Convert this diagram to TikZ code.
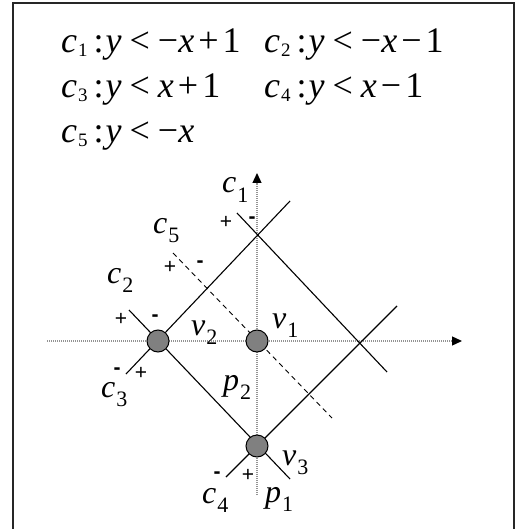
\documentclass[tikz,border=0pt]{standalone}
\usepackage{fontspec}
\setmainfont{Liberation Serif}
\newfontfamily\markfont{Liberation Sans}
\usetikzlibrary{arrows.meta}
\newcommand\eqsub[1]{\raisebox{-0.1em}{\fontsize{19}{19}\selectfont #1}}
\newcommand\lbsub[1]{\raisebox{-0.3em}{\fontsize{22}{22}\selectfont #1}}
\newcommand\eqc[1]{\textit{c}\kern1pt\eqsub{#1}}
\newcommand\lbl[2]{\textit{#1}\kern1pt\lbsub{#2}}
\tikzset{
  eq/.style={anchor=base west, inner sep=0pt, font=\fontsize{36}{42}\selectfont},
  lab/.style={anchor=base west, inner sep=0pt, font=\fontsize{32}{36}\selectfont},
  sgn/.style={anchor=base, inner sep=0pt, font=\markfont\fontsize{21}{21}\selectfont},
  axisline/.style={gray!85, line width=1.3pt, dash pattern=on 1pt off 1pt, -{Triangle[length=10pt,width=9pt,color=black]}},
  cline/.style={black, line width=1.1pt},
  cdash/.style={black, line width=0.9pt, dash pattern=on 5pt off 4pt},
  vert/.style={circle, draw=black, line width=1pt, fill=gray, minimum size=22pt, inner sep=0pt},
  frameline/.style={black!85, line width=1.5pt}
}
\begin{document}
\begin{tikzpicture}[x=1pt, y=-1pt]
\useasboundingbox (0,0) rectangle (518,529);
% frame
\coordinate (fbl) at (13,535);
\coordinate (ftl) at (13,3);
\coordinate (ftr) at (514,3);
\coordinate (fbr) at (514,535);
\draw[frameline] (fbl) -- (ftl) -- (ftr) -- (fbr);
% equations
\node[eq] (e1) at (61,53) {\eqc{1}\kern6pt:\kern2pt\textit{y}\kern8pt<\kern8pt−\textit{x}\kern4pt+\kern4pt1};
\node[eq] (e2) at (264,53) {\eqc{2}\kern6pt:\kern2pt\textit{y}\kern8pt<\kern8pt−\textit{x}\kern4pt−\kern4pt1};
\node[eq] (e3) at (61,98) {\eqc{3}\kern6pt:\kern2pt\textit{y}\kern8pt<\kern8pt\textit{x}\kern4pt+\kern4pt1};
\node[eq] (e4) at (264,98) {\eqc{4}\kern6pt:\kern2pt\textit{y}\kern8pt<\kern8pt\textit{x}\kern4pt−\kern4pt1};
\node[eq] (e5) at (61,143) {\eqc{5}\kern6pt:\kern2pt\textit{y}\kern8pt<\kern8pt−\textit{x}};
% axes
\coordinate (axL) at (47,341);
\coordinate (axR) at (462,341);
\coordinate (ayB) at (257,495);
\coordinate (ayT) at (257,173);
\draw[axisline] (axL) -- (axR);
\draw[axisline] (ayB) -- (ayT);
% constraint lines
\coordinate (c1a) at (237,213);
\coordinate (c1b) at (387,372);
\coordinate (c3a) at (126,374);
\coordinate (c3b) at (290,201);
\coordinate (c2a) at (129,310);
\coordinate (c2b) at (290,479);
\coordinate (c4a) at (226,477);
\coordinate (c4b) at (397,306);
\coordinate (c5a) at (173,253);
\coordinate (c5b) at (332,418);
\draw[cline] (c1a) -- (c1b);
\draw[cline] (c3a) -- (c3b);
\draw[cline] (c2a) -- (c2b);
\draw[cline] (c4a) -- (c4b);
\draw[cdash] (c5a) -- (c5b);
% vertices
\node[vert] (v1) at (257,341) {};
\node[vert] (v2) at (158,341) {};
\node[vert] (v3) at (257,446) {};
% labels
\node[lab] (l1) at (222,193) {\lbl{c}{1}};
\node[lab] (l5) at (153,233) {\lbl{c}{5}};
\node[lab] (l2) at (107,283) {\lbl{c}{2}};
\node[lab] (l3) at (101,397) {\lbl{c}{3}};
\node[lab] (l4) at (202,503) {\lbl{c}{4}};
\node[lab] (lv2) at (191,335) {\lbl{v}{2}};
\node[lab] (lv1) at (272,328) {\lbl{v}{1}};
\node[lab] (lp2) at (223,390) {\lbl{p}{2}};
\node[lab] (lv3) at (282,465) {\lbl{v}{3}};
\node[lab] (lp1) at (265,502) {\lbl{p}{1}};
% signs
\node[sgn] (s1p) at (226,228) {+};
\node[sgn] (s1m) at (252,223) {\bfseries -};
\node[sgn] (s5p) at (170,273) {+};
\node[sgn] (s5m) at (200,267) {\bfseries -};
\node[sgn] (s2p) at (121,325) {+};
\node[sgn] (s2m) at (155,321) {\bfseries -};
\node[sgn] (s3m) at (117,374) {\bfseries -};
\node[sgn] (s3p) at (141,379) {+};
\node[sgn] (s4m) at (217,478) {\bfseries -};
\node[sgn] (s4p) at (248,481) {+};
\end{tikzpicture}
\end{document}
